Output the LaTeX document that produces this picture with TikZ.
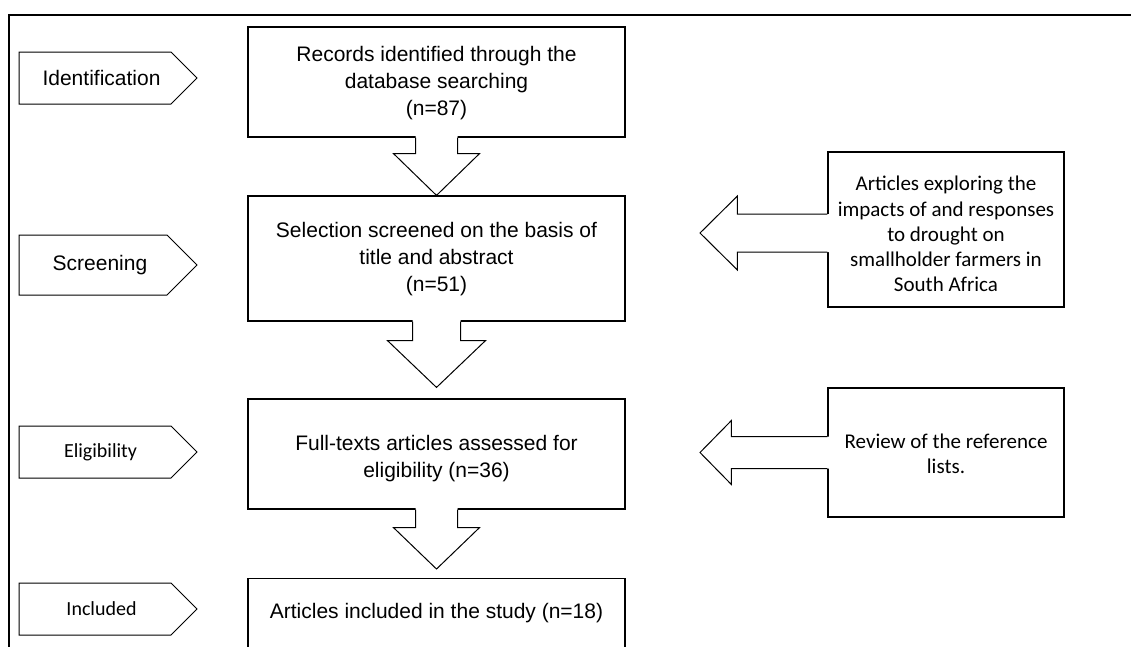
\documentclass[tikz,border=0pt]{standalone}
\usepackage{fontspec}
\setmainfont{Liberation Sans}
\newfontfamily\calibrifont{Carlito}
\usetikzlibrary{calc}
\newcommand\blkdown[5]{%
  \fill[white] ($(#1)+(-#2,-1.5)$) -- ($(#1)+(-#2,#3)$) -- ($(#1)+(-#4,#3)$) -- (#5) -- ($(#1)+(#4,#3)$) -- ($(#1)+(#2,#3)$) -- ($(#1)+(#2,-1.5)$) -- cycle;
  \draw[blkline] ($(#1)+(-#2,0)$) -- ($(#1)+(-#2,#3)$) -- ($(#1)+(-#4,#3)$) -- (#5) -- ($(#1)+(#4,#3)$) -- ($(#1)+(#2,#3)$) -- ($(#1)+(#2,0)$);}
\newcommand\blkleft[5]{%
  \fill[white] ($(#1)+(1.5,-#2)$) -- ($(#1)+(-#3,-#2)$) -- ($(#1)+(-#3,-#4)$) -- (#5) -- ($(#1)+(-#3,#4)$) -- ($(#1)+(-#3,#2)$) -- ($(#1)+(1.5,#2)$) -- cycle;
  \draw[blkline] ($(#1)+(0,-#2)$) -- ($(#1)+(-#3,-#2)$) -- ($(#1)+(-#3,-#4)$) -- (#5) -- ($(#1)+(-#3,#4)$) -- ($(#1)+(-#3,#2)$) -- ($(#1)+(0,#2)$);}
\begin{document}
\begin{tikzpicture}[x=1pt,y=-1pt,
  box/.style={draw, line width=1.2pt, minimum width=377pt, align=center, inner sep=0pt,
    font=\fontsize{21}{25.5}\selectfont},
  rbox/.style={draw, line width=1.2pt, minimum width=236pt, align=center, inner sep=0pt,
    font=\calibrifont\fontsize{21}{25}\selectfont},
  boxtext/.style={align=center, inner sep=0pt, font=\fontsize{21}{27}\selectfont},
  rboxtext/.style={align=center, inner sep=0pt, font=\calibrifont\fontsize{21}{25.2}\selectfont},
  tagtext/.style={inner sep=0pt, font=\fontsize{21}{25}\selectfont},
  tagtextc/.style={inner sep=0pt, font=\calibrifont\fontsize{20}{24}\selectfont},
  tagline/.style={draw, line width=1pt, line join=miter},
  blkline/.style={draw, line width=1pt, line join=miter},
  frameline/.style={draw, line width=2pt}]
\useasboundingbox (0,0) rectangle (1131,646);
\clip (0,0) rectangle (1131,646);

% frame
\coordinate (fr1) at (1140,15);
\coordinate (fr2) at (9,15);
\coordinate (fr3) at (9,660);
\draw[frameline] (fr1) -- (fr2) -- (fr3);

% stage tags
\draw[tagline] (19,52) -- (171,52) -- (197,78) -- (171,104) -- (19,104) -- cycle;
\node[tagtext] (t1) at (101.5,78) {Identification};
\draw[tagline] (19,235) -- (167,235) -- (197,265) -- (167,295) -- (19,295) -- cycle;
\node[tagtext] (t2) at (100,265) {Screening};
\draw[tagline] (19,426) -- (171,426) -- (197,452) -- (171,478) -- (19,478) -- cycle;
\node[tagtextc] (t3) at (100.5,452) {Eligibility};
\draw[tagline] (19,583) -- (171,583) -- (197,609) -- (171,635) -- (19,635) -- cycle;
\node[tagtextc] (t4) at (101.5,609) {Included};

% main boxes
\node[box, minimum height=110pt] (b1) at (436.5,82) {};
\node[boxtext] (b1t) at (436.5,83) {Records identified through the\\database searching\\(n=87)};
\node[box, minimum height=125pt] (b2) at (436.5,258.5) {};
\node[boxtext] (b2t) at (436.5,259) {Selection screened on the basis of\\title and abstract\\(n=51)};
\node[box, minimum height=110pt] (b3) at (436.5,454) {};
\node[boxtext] (b3t) at (436.5,459) {Full-texts articles assessed for\\eligibility (n=36)};
\node[box, anchor=north, text height=39.5pt, text depth=40pt] (b4) at (436.5,578) {Articles included in the study (n=18)};

% side boxes
\node[rbox, minimum height=155pt] (r1) at (946,229.5) {};
\node[rboxtext] (r1t) at (946,234) {Articles exploring the\\impacts of and responses\\to drought on\\smallholder farmers in\\South Africa};
\node[rbox, minimum height=129pt] (r2) at (946,452.5) {};
\node[rboxtext] (r2t) at (946,453.5) {Review of the reference\\lists.};

% block arrows down
\coordinate (tip2) at ($(b3.north)+(0,-11)$);
\coordinate (tip3) at ($(b4.north)+(0,-9)$);
\blkdown{b1.south}{21}{16}{43}{b2.north}
\blkdown{b2.south}{24}{19}{49}{tip2}
\blkdown{b3.south}{21}{18}{43}{tip3}

% block arrows left
\coordinate (s1) at ($(r1.west)+(0,3.5)$);
\coordinate (e1) at (700,233);
\coordinate (s2) at (r2.west);
\coordinate (e2) at (700,452.5);
\blkleft{s1}{19}{90}{37}{e1}
\blkleft{s2}{16}{96}{32}{e2}
\end{tikzpicture}
\end{document}
